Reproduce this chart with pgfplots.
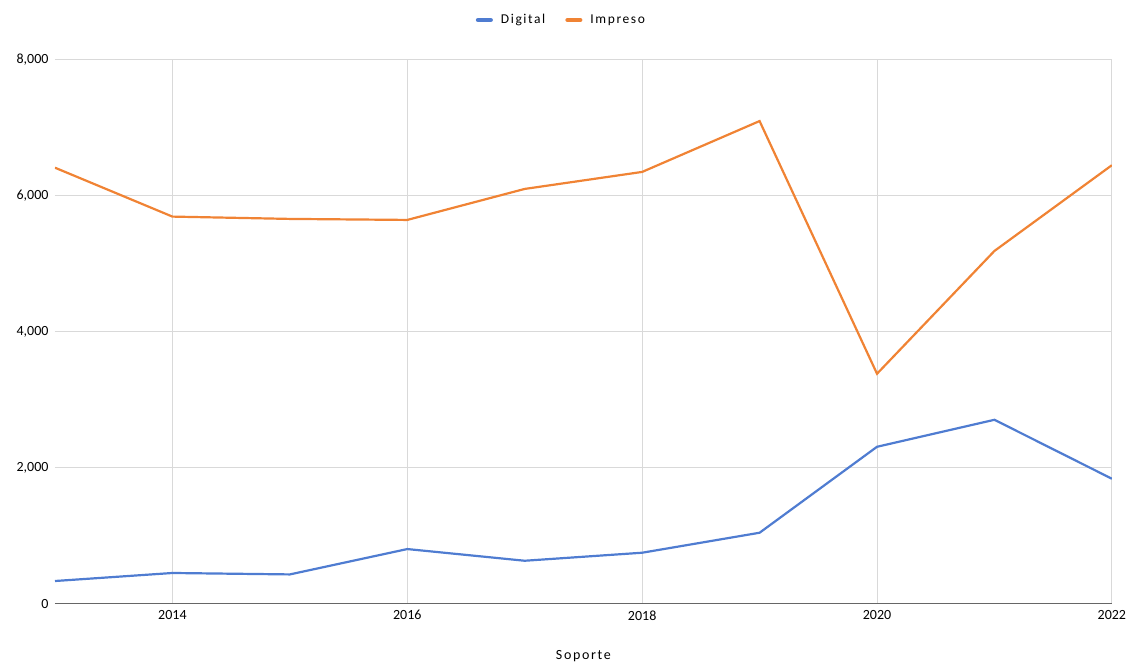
\documentclass[border=0pt]{standalone}
\usepackage{fontspec}
\setmainfont{Carlito}
\newfontfamily\legfont[LetterSpace=12]{Carlito}
\usepackage{pgfplots}
\pgfplotsset{compat=1.18}
\definecolor{digital}{RGB}{79,124,209}
\definecolor{impreso}{RGB}{240,131,52}
\definecolor{gridc}{RGB}{217,217,217}
\begin{document}
\begin{tikzpicture}[x=1pt,y=1pt]
\useasboundingbox (-55,-59) rectangle (1074,604);
\begin{axis}[
    at={(0,0)}, anchor=south west,
    scale only axis, width=1057pt, height=544pt,
    xmin=2013, xmax=2022, ymin=0, ymax=8000,
    xtick={2014,2016,2018,2020,2022},
    ytick={0,2000,4000,6000,8000},
    xmajorgrids, ymajorgrids,
    grid style={gridc, line width=1pt},
    major tick length=0pt,
    axis x line*=bottom, axis y line*=left,
    x axis line style={draw=black!60, line width=1pt, -},
    y axis line style={draw=none},
    font=\fontsize{14}{16}\selectfont,
    /pgf/number format/assume math mode=true,
    xticklabel style={/pgf/number format/1000 sep=, yshift=-3pt},
    yticklabel style={/pgf/number format/1000 sep={,}, xshift=-3pt},
    xlabel={\legfont Soporte},
    xlabel style={at={(axis description cs:0.5,0)}, anchor=center, yshift=-52pt},
    legend columns=2,
    legend style={draw=none, at={(0.5,1)}, anchor=center, yshift=40pt, xshift=-22pt,
        font=\fontsize{13.5}{15}\selectfont\legfont, column sep=18pt,
        /tikz/every odd column/.style={column sep=6pt}},
    legend image code/.code={\draw[#1, line width=4pt, line cap=round] (0pt,0pt) -- (13pt,0pt);},
]
\addplot[digital, line width=2.2pt] coordinates {
    (2013,338) (2014,456) (2015,435) (2016,808) (2017,636)
    (2018,754) (2019,1048) (2020,2312) (2021,2709) (2022,1842)
};
\addlegendentry{Digital}
\addplot[impreso, line width=2.2pt] coordinates {
    (2013,6416) (2014,5697) (2015,5663) (2016,5648) (2017,6104)
    (2018,6354) (2019,7102) (2020,3386) (2021,5192) (2022,6453)
};
\addlegendentry{Impreso}
\end{axis}
\end{tikzpicture}
\end{document}
